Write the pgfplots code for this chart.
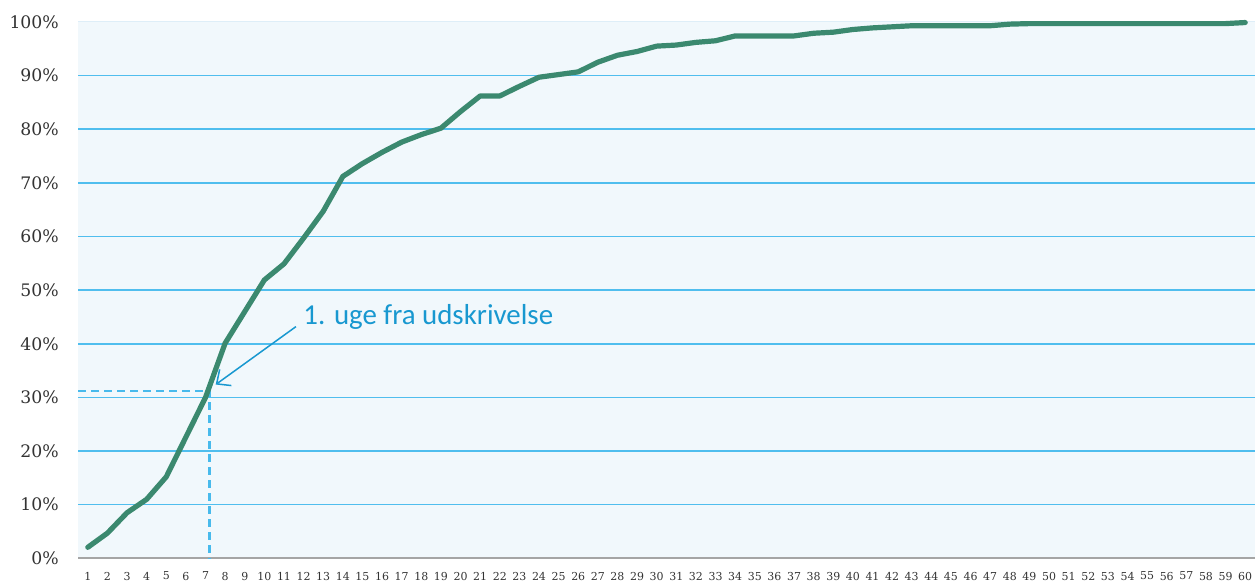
\documentclass[border=0pt]{standalone}
\usepackage{fontspec}
\setmainfont{DejaVu Serif}
\newfontfamily\annfont{Carlito}
\usepackage{pgfplots}
\pgfplotsset{compat=1.18}
\usetikzlibrary{arrows.meta}
\definecolor{linegreen}{RGB}{59,137,111}
\definecolor{bgblue}{RGB}{241,248,252}
\definecolor{gridblue}{RGB}{80,190,238}
\definecolor{annblue}{RGB}{24,152,208}
\definecolor{dashblue}{RGB}{72,186,236}
\definecolor{axisgray}{RGB}{165,165,165}
\definecolor{topfaint}{RGB}{222,238,248}

\pgfplotstableread{
x y
1 2.05
2 4.7
3 8.5
4 11.0
5 15.2
6 22.6
7 30.0
8 40.1
9 46.0
10 51.9
11 54.9
12 59.7
13 64.7
14 71.2
15 73.6
16 75.7
17 77.6
18 79.0
19 80.2
20 83.3
21 86.2
22 86.2
23 88.0
24 89.7
25 90.2
26 90.7
27 92.5
28 93.8
29 94.5
30 95.5
31 95.7
32 96.2
33 96.5
34 97.4
35 97.4
36 97.4
37 97.4
38 97.9
39 98.1
40 98.6
41 98.9
42 99.1
43 99.3
44 99.3
45 99.3
46 99.3
47 99.3
48 99.6
49 99.7
50 99.7
51 99.7
52 99.7
53 99.7
54 99.7
55 99.7
56 99.7
57 99.7
58 99.7
59 99.7
60 99.9
}\datatable

\begin{document}
\begin{tikzpicture}
\begin{axis}[
  name=ax,
  scale only axis,
  width=1177bp, height=536.3bp,
  xmin=0.5, xmax=60.5, ymin=0, ymax=100,
  axis background/.style={fill=bgblue},
  axis line style={draw=none},
  major tick length=0pt,
  xtick={1,...,60},
  ytick={0,10,...,100},
  yticklabels={0\%,10\%,20\%,30\%,40\%,50\%,60\%,70\%,80\%,90\%,100\%},
  /pgf/number format/assume math mode=true,
  xticklabel style={font=\fontsize{11}{11}\selectfont, anchor=north, inner sep=0pt, yshift=-13.5bp, text=black!80},
  yticklabel style={font=\fontsize{17.3}{17.3}\selectfont, anchor=east, inner sep=0pt, xshift=-19bp, text=black!80},
  extra y ticks={10,20,...,90},
  extra y tick labels={},
  extra y tick style={grid=major, major grid style={gridblue, line width=1.6bp}},
  clip=false,
]
\draw[topfaint, line width=1bp] (axis cs:0.5,100) -- (axis cs:60.5,100);
\draw[axisgray, line width=1.8bp] (axis cs:0.5,0) -- (axis cs:60.5,0);
\draw[dashblue, line width=2.4bp, dash pattern=on 8bp off 5bp] (axis cs:0.5,31.25) -- (axis cs:7.2,31.25) -- (axis cs:7.2,0);
\addplot[linegreen, line width=5.2bp, line join=round, line cap=round, mark=none] table[x=x,y=y] {\datatable};
\draw[annblue, line width=1.5bp, -{Straight Barb[length=11bp,width=20bp,line width=1.5bp]}] (axis cs:11.61,43.2) -- (axis cs:7.52,32.4);
\node[anchor=base west, inner sep=0pt, text=annblue, font=\annfont\fontsize{29}{29}\selectfont] at (axis cs:11.98,43.6) {1. uge fra udskrivelse};
\end{axis}
\pgfresetboundingbox
\path ([xshift=-78bp,yshift=-22.7bp]ax.south west) rectangle ([yshift=22bp]ax.north east);
\end{tikzpicture}
\end{document}
